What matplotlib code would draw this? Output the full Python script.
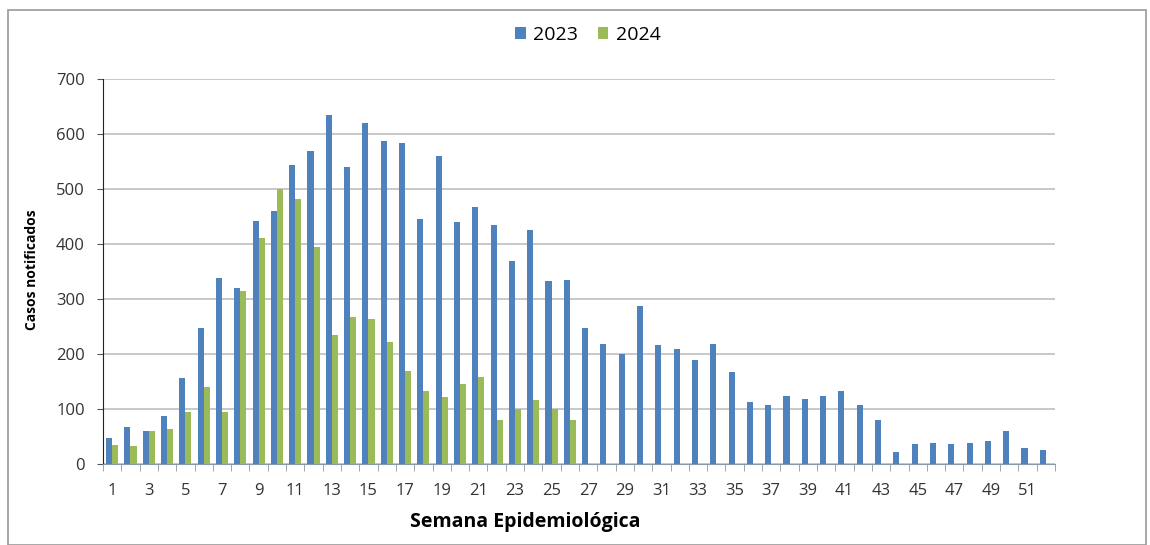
import matplotlib
matplotlib.use("Agg")
import matplotlib.pyplot as plt
import numpy as np
from matplotlib.patches import Rectangle

weeks = list(range(1, 53))
cases_2023 = [48, 67, 60, 88, 157, 247, 338, 320, 442, 460,
              543, 570, 635, 540, 620, 587, 583, 445, 560, 440,
              468, 435, 370, 425, 333, 335, 247, 218, 200, 287,
              217, 210, 190, 218, 168, 112, 107, 123, 118, 123,
              133, 107, 80, 22, 37, 38, 36, 39, 42, 60,
              30, 25]
weeks_2024 = list(range(1, 27))
cases_2024 = [35, 32, 60, 63, 95, 140, 95, 315, 410, 500,
              482, 395, 235, 268, 263, 222, 170, 132, 122, 145,
              158, 80, 100, 117, 100, 80]
y_ticks = [0, 100, 200, 300, 400, 500, 600, 700]
x_tick_labels = list(range(1, 52, 2))

BLUE = "#4f81bd"
GREEN = "#9bbb59"

plt.rcParams["font.family"] = ["Open Sans", "DejaVu Sans"]

fig = plt.figure(figsize=(11.5, 5.45), dpi=100)
ax = fig.add_axes([103 / 1150, 1 - 464 / 545, 952 / 1150, 385 / 545])

w = 0.33
x23 = np.array(weeks) - w / 2
x24 = np.array(weeks_2024) + w / 2
ax.bar(x23, cases_2023, width=w, color=BLUE, label="2023", zorder=3)
ax.bar(x24, cases_2024, width=w, color=GREEN, label="2024", zorder=3)

ax.set_xlim(0.5, 52.5)
ax.set_ylim(0, 700)
ax.set_yticks(y_ticks)
ax.set_yticklabels([str(v) for v in y_ticks], fontsize=12, color="#333333")
ax.tick_params(axis="y", length=4, pad=9, color="#555555")
ax.grid(axis="y", color="#bfbfbf", linewidth=1.2, zorder=0)

ax.set_xticks(x_tick_labels)
ax.set_xticklabels([str(v) for v in x_tick_labels], fontsize=12, color="#333333")
ax.set_xticks(np.arange(0.5, 53, 1), minor=True)
ax.tick_params(axis="x", which="major", length=0, pad=14)
ax.tick_params(axis="x", which="minor", length=5, color="#8899aa")

for s in ["top", "right"]:
    ax.spines[s].set_visible(False)
ax.spines["left"].set_color("#222222")
ax.spines["bottom"].set_color("#8899aa")

fig.text(32 / 1150, 1 - 270 / 545, "Casos notificados", rotation=90,
         ha="center", va="center", fontsize=10, fontweight="bold")
fig.text(525 / 1150, 1 - 522 / 545, "Semana Epidemiológica",
         ha="center", va="center", fontsize=14, fontweight="bold")

fig.legend(loc="center", bbox_to_anchor=(588 / 1150, 1 - 35 / 545), ncol=2,
           frameon=False, fontsize=14, handlelength=0.55, handleheight=0.55,
           handletextpad=0.4, columnspacing=1.0)

fig.patches.append(Rectangle((8 / 1150, 0), 1 - 8 / 1150 - 4 / 1150, 1 - 10 / 545,
                             transform=fig.transFigure, fill=False,
                             edgecolor="#999999", linewidth=1.2))

fig.savefig("out.png", dpi=100)
